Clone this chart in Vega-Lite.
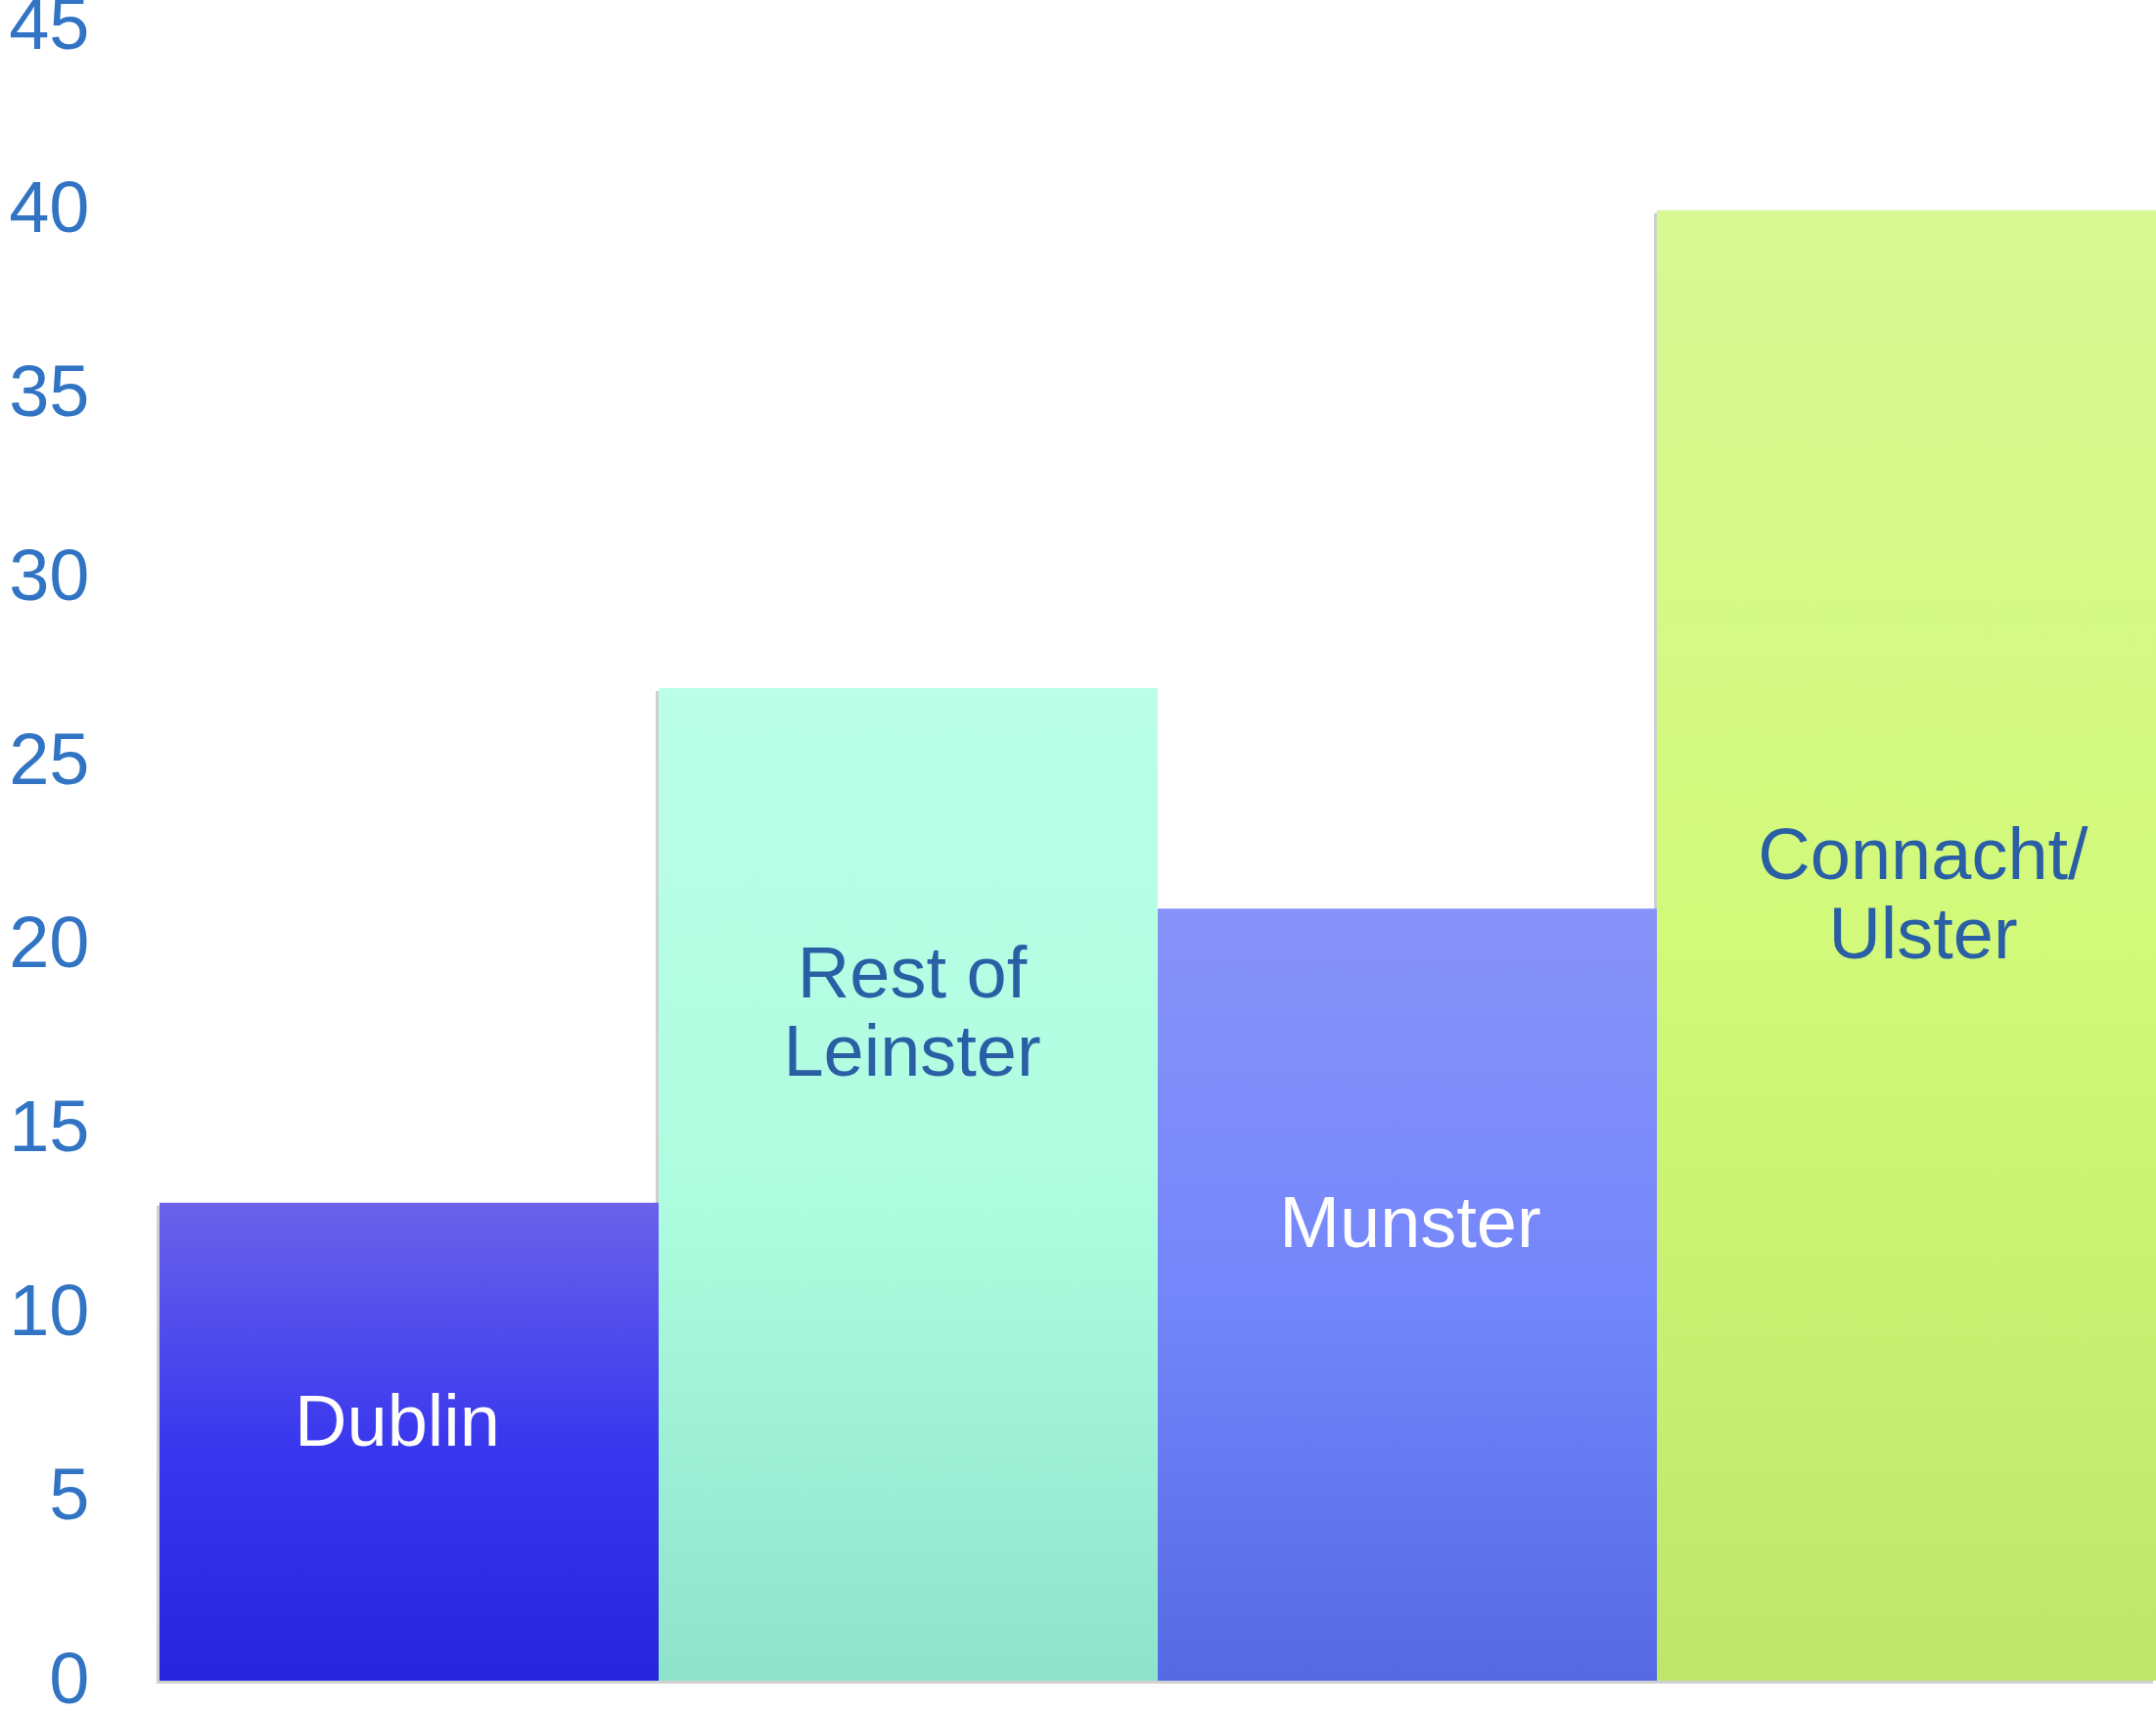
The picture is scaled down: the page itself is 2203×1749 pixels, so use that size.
{
  "$schema": "https://vega.github.io/schema/vega-lite/v6.json",
  "width": 2040,
  "height": 1690,
  "autosize": {"type": "none"},
  "padding": {"left": 163, "top": 27, "right": 0, "bottom": 32},
  "background": "white",
  "config": {"view": {"stroke": null}},
  "data": {
    "values": [
      {"region": "Dublin", "label": "Dublin", "value": 13},
      {"region": "Rest of Leinster", "label": "Rest of\nLeinster", "value": 27},
      {"region": "Munster", "label": "Munster", "value": 21},
      {"region": "Connacht/Ulster", "label": "Connacht/\nUlster", "value": 40}
    ]
  },
  "encoding": {
    "x": {"field": "region", "type": "nominal", "sort": null, "axis": null,
          "scale": {"paddingInner": 0, "paddingOuter": 0}},
    "y": {"field": "value", "type": "quantitative",
          "scale": {"domain": [0, 45], "nice": false, "zero": true},
          "axis": {"title": null, "values": [0, 5, 10, 15, 20, 25, 30, 35, 40, 45],
                   "grid": false, "domain": false, "ticks": false,
                   "labelFont": "Liberation Sans", "labelFontSize": 74,
                   "labelColor": "#3274C4", "labelPadding": 72,
                   "labelFlush": false, "labelOverlap": false}}
  },
  "layer": [
    {"mark": {"type": "bar", "color": "#8A8A8A", "opacity": 0.4, "xOffset": -3, "yOffset": 3}},
    {
      "transform": [{"filter": "datum.region === 'Dublin'"}],
      "layer": [
        {"mark": {"type": "bar", "color": {"gradient": "linear", "x1": 0, "y1": 0, "x2": 0, "y2": 1,
          "stops": [{"offset": 0, "color": "#6A62EA"}, {"offset": 0.5, "color": "#3A38EE"}, {"offset": 1, "color": "#2724DE"}]}}},
        {"mark": {"type": "text", "font": "Liberation Sans", "fontSize": 74, "color": "#FFFFFF",
                  "baseline": "alphabetic", "align": "center", "dy": 248, "dx": -12},
         "encoding": {"text": {"field": "label"}}}
      ]
    },
    {
      "transform": [{"filter": "datum.region === 'Rest of Leinster'"}],
      "layer": [
        {"mark": {"type": "bar", "color": {"gradient": "linear", "x1": 0, "y1": 0, "x2": 0, "y2": 1,
          "stops": [{"offset": 0, "color": "#BBFFE8"}, {"offset": 0.5, "color": "#AFFDE0"}, {"offset": 1, "color": "#8EE3CB"}]}}},
        {"mark": {"type": "text", "font": "Liberation Sans", "fontSize": 74, "color": "#2A5FA5",
                  "baseline": "alphabetic", "align": "center", "dy": 316, "dx": 4, "lineBreak": "\n", "lineHeight": 80},
         "encoding": {"text": {"field": "label"}}}
      ]
    },
    {
      "transform": [{"filter": "datum.region === 'Munster'"}],
      "layer": [
        {"mark": {"type": "bar", "color": {"gradient": "linear", "x1": 0, "y1": 0, "x2": 0, "y2": 1,
          "stops": [{"offset": 0, "color": "#8793F8"}, {"offset": 0.5, "color": "#7486FB"}, {"offset": 1, "color": "#5569E4"}]}}},
        {"mark": {"type": "text", "font": "Liberation Sans", "fontSize": 74, "color": "#FFFFFF",
                  "baseline": "alphabetic", "align": "center", "dy": 346, "dx": 3},
         "encoding": {"text": {"field": "label"}}}
      ]
    },
    {
      "transform": [{"filter": "datum.region === 'Connacht/Ulster'"}],
      "layer": [
        {"mark": {"type": "bar", "color": {"gradient": "linear", "x1": 0, "y1": 0, "x2": 0, "y2": 1,
          "stops": [{"offset": 0, "color": "#D8F894"}, {"offset": 0.5, "color": "#D2F979"}, {"offset": 1, "color": "#BEE769"}]}}},
        {"mark": {"type": "text", "font": "Liberation Sans", "fontSize": 74, "color": "#2A5FA5",
                  "baseline": "alphabetic", "align": "center", "dy": 683, "dx": 17, "lineBreak": "\n", "lineHeight": 81},
         "encoding": {"text": {"field": "label"}}}
      ]
    }
  ]
}
